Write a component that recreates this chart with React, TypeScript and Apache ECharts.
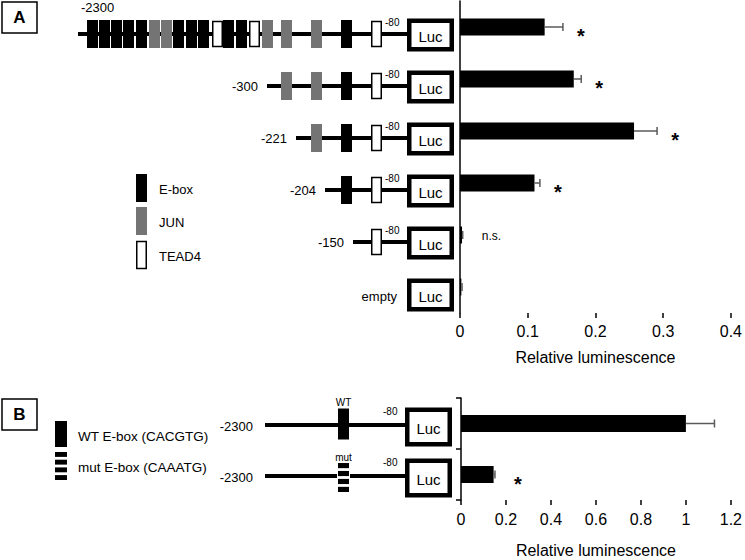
import React, { useEffect, useRef } from "react";
import * as echarts from "echarts";

// ---------- Panel A data ----------
const constructsA = ["-2300", "-300", "-221", "-204", "-150", "empty"];
const valuesA = [0.125, 0.168, 0.257, 0.11, 0.003, 0.002];
const errorsA = [0.027, 0.011, 0.034, 0.008, 0.001, 0.001];
const signifA = ["*", "*", "*", "*", "n.s.", ""];
const ticksA = [0, 0.1, 0.2, 0.3, 0.4];

// ---------- Panel B data ----------
const constructsB = ["WT", "mut"];
const valuesB = [1.0, 0.145];
const errorsB = [0.127, 0.006];
const signifB = ["", "*"];
const ticksB = [0, 0.2, 0.4, 0.6, 0.8, 1.0, 1.2];

const axisTitle = "Relative luminescence";

// ---------- promoter maps (schematic map units) ----------
const startA = [78, 267, 296, 325, 353, null];
const sitePosA = [87, 99, 111, 123, 136, 149, 161, 173, 186, 198, 212, 223, 236, 249, 262, 281, 311, 341, 371];
const siteTypeA = ["E", "E", "E", "E", "E", "J", "J", "E", "E", "E", "T", "E", "E", "T", "J", "J", "J", "E", "T"];
const startB = [265, 265];
const sitePosB = [338, 338];
const siteTypeB = ["WT", "mut"];
const legendA = [
  { type: "E", label: "E-box" },
  { type: "J", label: "JUN" },
  { type: "T", label: "TEAD4" },
];
const legendB = [
  { type: "WT", label: "WT E-box (CACGTG)" },
  { type: "mut", label: "mut E-box (CAAATG)" },
];

// ---------- styles ----------
const FONT = '"Liberation Sans", Arial, Helvetica, sans-serif';
const GRAY = "#747474";
const ERR = "#5a5a5a";
const LUC_L = 407;
const LUC_R = 454;
const LUC_BL = 405;
const LUC_BR = 452;

function txt(text: string, x: number, y: number, size: number, align = "left", extra: any = {}) {
  return {
    type: "text",
    style: {
      text,
      x,
      y,
      fontSize: size,
      fontFamily: FONT,
      fill: "#000",
      align,
      verticalAlign: "middle",
      ...extra,
    },
  };
}

function lucBox(xl: number, xr: number, cy: number, h: number) {
  const lw = 4.5;
  return [
    {
      type: "rect",
      shape: { x: xl + lw / 2, y: cy - h / 2 + lw / 2, width: xr - xl - lw, height: h - lw },
      style: { fill: "#fff", stroke: "#000", lineWidth: lw },
    },
    txt("Luc", (xl + xr) / 2, cy + 1, 15, "center"),
  ];
}

function stripes(x: number, w: number, top: number, h: number) {
  const n = 4;
  const gap = 2.8;
  const sh = (h - gap * (n - 1)) / n;
  const out: any[] = [
    { type: "rect", shape: { x: x - 1, y: top - 1, width: w + 2, height: h + 2 }, style: { fill: "#fff" } },
  ];
  for (let k = 0; k < n; k++) {
    out.push({ type: "rect", shape: { x, y: top + k * (sh + gap), width: w, height: sh }, style: { fill: "#000" } });
  }
  return out;
}

function diagramA(params: any, api: any) {
  const i = params.dataIndex;
  const y = api.coord([0, i])[1];
  const X = (v: number) => api.coord([v, i])[0];
  const ch: any[] = [];
  const s = startA[i];
  if (s !== null) {
    ch.push({ type: "rect", shape: { x: X(s), y: y - 2, width: X(LUC_L) - X(s), height: 4 }, style: { fill: "#000" } });
    sitePosA.forEach((p, k) => {
      if (p < s) return;
      const t = siteTypeA[k];
      const w = X(p + 11) - X(p);
      if (t === "T") {
        ch.push({
          type: "rect",
          shape: { x: X(p) + 0.75, y: y - 12.5, width: w - 1.5, height: 25 },
          style: { fill: "#fff", stroke: "#000", lineWidth: 1.5 },
        });
      } else {
        ch.push({
          type: "rect",
          shape: { x: X(p), y: y - 14, width: w, height: 28 },
          style: { fill: t === "E" ? "#000" : GRAY },
        });
      }
    });
    ch.push(txt("-80", X(385), y - 12, 10));
  }
  ch.push(...lucBox(X(LUC_L), X(LUC_R), y + 1, 33));
  if (i === 0 && s !== null) ch.push(txt(constructsA[i], X(s) + 3, y - 27, 13));
  else if (s !== null) ch.push(txt(constructsA[i], X(s) - 9, y, 13, "right"));
  else ch.push(txt(constructsA[i], X(LUC_L) - 10, y + 2, 13, "right"));
  return { type: "group", children: ch };
}

function diagramB(params: any, api: any) {
  const i = params.dataIndex;
  const y = api.coord([0, i])[1];
  const X = (v: number) => api.coord([v, i])[0];
  const ch: any[] = [];
  const s = startB[i];
  ch.push({ type: "rect", shape: { x: X(s), y: y - 2, width: X(LUC_BL) - X(s), height: 4 }, style: { fill: "#000" } });
  const p = sitePosB[i];
  const w = X(p + 11) - X(p);
  let top;
  if (siteTypeB[i] === "WT") {
    top = y - 16.5;
    ch.push({ type: "rect", shape: { x: X(p), y: top, width: w, height: 31 }, style: { fill: "#000" } });
  } else {
    top = y - 13;
    ch.push(...stripes(X(p), w, top, 29));
  }
  ch.push(txt(constructsB[i], X(p) + w / 2, top - 6, 10, "center"));
  ch.push(txt("-80", X(383), y - 14, 10));
  ch.push(...lucBox(X(LUC_BL), X(LUC_BR), y + 2, 39));
  ch.push(txt("-2300", X(s) - 12, y + 1, 13, "right"));
  return { type: "group", children: ch };
}

function makeErr(signif: string[], starGap: number) {
  return (params: any, api: any) => {
    const i = params.dataIndex;
    const v = api.value(0);
    const c = api.value(1);
    const e = api.value(2);
    const p0 = api.coord([v, c]);
    const p1 = api.coord([v + e, c]);
    const ch: any[] = [
      { type: "line", shape: { x1: p0[0], y1: p0[1], x2: p1[0], y2: p1[1] }, style: { stroke: ERR, lineWidth: 1.5 } },
      { type: "line", shape: { x1: p1[0], y1: p1[1] - 4, x2: p1[0], y2: p1[1] + 4 }, style: { stroke: ERR, lineWidth: 1.5 } },
    ];
    const sg = signif[i];
    if (sg === "*") ch.push(txt("*", p1[0] + starGap, p1[1] + 9, 20, "center", { fontWeight: "bold" }));
    else if (sg) ch.push(txt(sg, p1[0] + 19, p1[1] + 1, 12));
    return { type: "group", children: ch };
  };
}

export default function App() {
  const ref = useRef<HTMLDivElement>(null);
  useEffect(() => {
    if (!ref.current) return;
    const chart = echarts.init(ref.current, null, { renderer: "svg" });
    const axisBase = {
      axisLine: { lineStyle: { color: "#000", width: 1.5 } },
      splitLine: { show: false },
    };
    const legendGraphics: any[] = [];
    const lgY = [188, 221, 255];
    legendA.forEach((l, k) => {
      const cy = lgY[k];
      if (l.type === "T")
        legendGraphics.push({
          type: "rect",
          shape: { x: 136.75, y: cy - 13.5, width: 9.5, height: 27 },
          style: { fill: "#fff", stroke: "#000", lineWidth: 1.5 },
        });
      else
        legendGraphics.push({
          type: "rect",
          shape: { x: 136, y: cy - 14, width: 11, height: 28 },
          style: { fill: l.type === "E" ? "#000" : GRAY },
        });
      legendGraphics.push(txt(l.label, 159, cy + 1, 13));
    });
    legendB.forEach((l) => {
      if (l.type === "WT") {
        legendGraphics.push({ type: "rect", shape: { x: 55, y: 421, width: 12, height: 26 }, style: { fill: "#000" } });
        legendGraphics.push(txt(l.label, 78, 436, 13.5));
      } else {
        legendGraphics.push(...stripes(55, 12, 452, 28));
        legendGraphics.push(txt(l.label, 78, 467, 13.5));
      }
    });
    const panelLabel = (t: string, y: number) => [
      { type: "rect", shape: { x: 2, y, width: 35, height: 31 }, style: { fill: "#fff", stroke: "#000", lineWidth: 1.5 } },
      txt(t, 19.5, y + 15.5, 17, "center", { fontWeight: "bold" }),
    ];

    const option: any = {
      animation: false,
      backgroundColor: "#fff",
      textStyle: { fontFamily: FONT },
      grid: [
        { left: 460, top: 1, width: 271, height: 312 },
        { left: 461, top: 398, width: 273, height: 102 },
        { left: 0, top: 8, width: 460, height: 312 },
        { left: 0, top: 399.5, width: 460, height: 102 },
      ],
      xAxis: [
        {
          gridIndex: 0,
          type: "value",
          min: ticksA[0],
          max: ticksA[ticksA.length - 1],
          interval: ticksA[1] - ticksA[0],
          ...axisBase,
          axisTick: { show: true, length: 5, lineStyle: { color: "#000", width: 1.5 } },
          axisLabel: { fontSize: 16, color: "#000", margin: 10, fontFamily: FONT },
          name: axisTitle,
          nameLocation: "middle",
          nameGap: 36,
          nameTextStyle: { fontSize: 16, color: "#000", fontFamily: FONT },
        },
        {
          gridIndex: 1,
          type: "value",
          min: ticksB[0],
          max: ticksB[ticksB.length - 1],
          interval: ticksB[1] - ticksB[0],
          ...axisBase,
          axisTick: { show: true, length: 5, lineStyle: { color: "#000", width: 1.5 } },
          axisLabel: { fontSize: 16, color: "#000", margin: 11, fontFamily: FONT },
          name: axisTitle,
          nameLocation: "middle",
          nameGap: 42,
          nameTextStyle: { fontSize: 16, color: "#000", fontFamily: FONT },
        },
        { gridIndex: 2, type: "value", min: 0, max: 460, show: false },
        { gridIndex: 3, type: "value", min: 0, max: 460, show: false },
      ],
      yAxis: [
        {
          gridIndex: 0,
          type: "category",
          data: constructsA,
          inverse: true,
          ...axisBase,
          axisTick: { show: false },
          axisLabel: { show: false },
        },
        {
          gridIndex: 1,
          type: "category",
          data: constructsB,
          inverse: true,
          ...axisBase,
          axisTick: { show: true, length: 5, lineStyle: { color: "#000", width: 1.5 } },
          axisLabel: { show: false },
        },
        { gridIndex: 2, type: "category", data: constructsA, inverse: true, show: false },
        { gridIndex: 3, type: "category", data: constructsB, inverse: true, show: false },
      ],
      series: [
        {
          type: "bar",
          xAxisIndex: 0,
          yAxisIndex: 0,
          data: valuesA,
          barWidth: 17,
          itemStyle: { color: "#000" },
          silent: true,
        },
        {
          type: "custom",
          xAxisIndex: 0,
          yAxisIndex: 0,
          data: valuesA.map((v, i) => [v, i, errorsA[i]]),
          encode: { x: 0, y: 1 },
          renderItem: makeErr(signifA, 18),
          silent: true,
          z: 5,
        },
        {
          type: "bar",
          xAxisIndex: 1,
          yAxisIndex: 1,
          data: valuesB,
          barWidth: 17,
          itemStyle: { color: "#000" },
          silent: true,
        },
        {
          type: "custom",
          xAxisIndex: 1,
          yAxisIndex: 1,
          data: valuesB.map((v, i) => [v, i, errorsB[i]]),
          encode: { x: 0, y: 1 },
          renderItem: makeErr(signifB, 23),
          silent: true,
          z: 5,
        },
        {
          type: "custom",
          xAxisIndex: 2,
          yAxisIndex: 2,
          data: constructsA.map((_, i) => [0, i]),
          encode: { x: 0, y: 1 },
          renderItem: diagramA,
          silent: true,
          z: 3,
        },
        {
          type: "custom",
          xAxisIndex: 3,
          yAxisIndex: 3,
          data: constructsB.map((_, i) => [0, i]),
          encode: { x: 0, y: 1 },
          renderItem: diagramB,
          silent: true,
          z: 3,
        },
      ],
      graphic: [...panelLabel("A", 2), ...panelLabel("B", 399), ...legendGraphics],
    };
    chart.setOption(option);
    return () => chart.dispose();
  }, []);
  return (
    <div
      ref={ref}
      style={{ position: "fixed", left: 0, top: 0, width: 745, height: 560, background: "#fff" }}
    />
  );
}
